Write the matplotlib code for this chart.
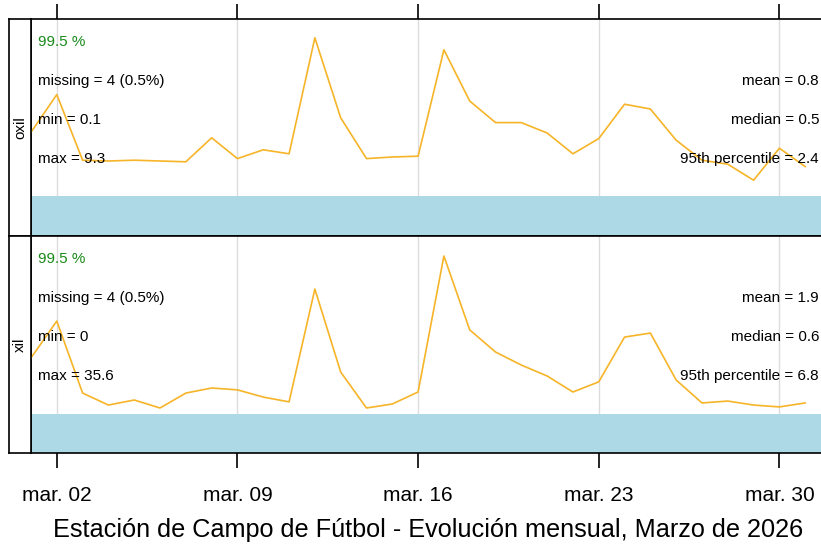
import numpy as np
import pandas as pd
import matplotlib
matplotlib.use("Agg")
import matplotlib.pyplot as plt
import matplotlib.dates as mdates

days = pd.date_range("2026-03-01", "2026-03-31", freq="D")

oxil = [0.86, 1.33, 0.51, 0.50, 0.51, 0.50, 0.49, 0.79, 0.53, 0.64, 0.59,
        2.04, 1.04, 0.53, 0.55, 0.56, 1.89, 1.25, 0.98, 0.98, 0.85, 0.59,
        0.78, 1.21, 1.15, 0.76, 0.51, 0.46, 0.26, 0.66, 0.43]
xil = [2.18, 3.56, 0.86, 0.41, 0.60, 0.30, 0.86, 1.05, 0.98, 0.71, 0.53,
       4.76, 1.65, 0.30, 0.45, 0.90, 6.00, 3.23, 2.40, 1.91, 1.50, 0.90,
       1.28, 2.96, 3.11, 1.35, 0.49, 0.56, 0.41, 0.34, 0.49]

names = ["oxil", "xil"]
series = [oxil, xil]
pct_valid = ["99.5 %", "99.5 %"]
missing = ["missing = 4 (0.5%)", "missing = 4 (0.5%)"]
mins = ["min = 0.1", "min = 0"]
maxs = ["max = 9.3", "max = 35.6"]
means = ["mean = 0.8", "mean = 1.9"]
medians = ["median = 0.5", "median = 0.6"]
p95 = ["95th percentile = 2.4", "95th percentile = 6.8"]

# y limits / missing-bar top per panel (chosen to match layout)
ylims = [(-0.4375, 2.275), (-1.3875, 6.75)]
bar_top = [0.0625, 0.075]

title = "Estación de Campo de Fútbol - Evolución mensual, Marzo de 2026"

W, H = 821, 549
fig = plt.figure(figsize=(W / 100, H / 100), dpi=100)

line_col = "#F6B428"
band_col = "#ADD8E6"
x0, x1 = 31, 831
tops = [19, 236]
ph = 217

for i in range(2):
    top = tops[i]
    ax = fig.add_axes([x0 / W, 1 - (top + ph) / H, (x1 - x0) / W, ph / H])
    st = fig.add_axes([9 / W, 1 - (top + ph) / H, (x0 - 9) / W, ph / H])
    st.set_xticks([])
    st.set_yticks([])
    st.text(0.5, 0.5, names[i], rotation=90, ha="center", va="center",
            fontsize=11, family="Liberation Sans", transform=st.transAxes)
    for s in st.spines.values():
        s.set_linewidth(1.2)

    ax.set_xlim(pd.Timestamp("2026-03-01"), pd.Timestamp("2026-04-01"))
    ax.set_ylim(*ylims[i])
    ax.xaxis.set_major_locator(mdates.DayLocator(bymonthday=[2, 9, 16, 23, 30]))
    ax.grid(axis="x", color="#dcdcdc", lw=1)
    ax.set_axisbelow(True)
    ax.axhspan(ylims[i][0], bar_top[i], color=band_col, lw=0, zorder=2)
    ax.plot(days, series[i], color=line_col, lw=1.2, zorder=3)
    ax.set_yticks([])
    for s in ax.spines.values():
        s.set_linewidth(1.2)

    if i == 0:
        ax.tick_params(axis="x", top=True, bottom=False, labeltop=False,
                       labelbottom=False, length=11, width=1.2, direction="out")
    else:
        ax.tick_params(axis="x", top=False, bottom=True, labelbottom=True,
                       length=11, width=1.2, direction="out", pad=13)
        ax.xaxis.set_major_formatter(mdates.DateFormatter("mar. %d"))
        for lab in ax.get_xticklabels():
            lab.set_fontfamily("Liberation Sans")
            lab.set_fontsize(15)

    fkw = dict(fontsize=11, family="Liberation Sans", va="center",
               transform=ax.transAxes, zorder=4)
    xl = (38 - x0) / (x1 - x0)
    xr = (819 - x0) / (x1 - x0)
    ax.text(xl, 1 - 23 / ph, pct_valid[i], color="#1a8a1a", ha="left", **fkw)
    ax.text(xl, 1 - 62 / ph, missing[i], ha="left", **fkw)
    ax.text(xl, 1 - 101 / ph, mins[i], ha="left", **fkw)
    ax.text(xl, 1 - 140 / ph, maxs[i], ha="left", **fkw)
    ax.text(xr, 1 - 62 / ph, means[i], ha="right", **fkw)
    ax.text(xr, 1 - 101 / ph, medians[i], ha="right", **fkw)
    ax.text(xr, 1 - 140 / ph, p95[i], ha="right", **fkw)

fig.text(428 / W, 1 - 530 / H, title, ha="center", va="center",
         fontsize=18.2, family="Liberation Sans")

fig.savefig("out.png", dpi=100)
